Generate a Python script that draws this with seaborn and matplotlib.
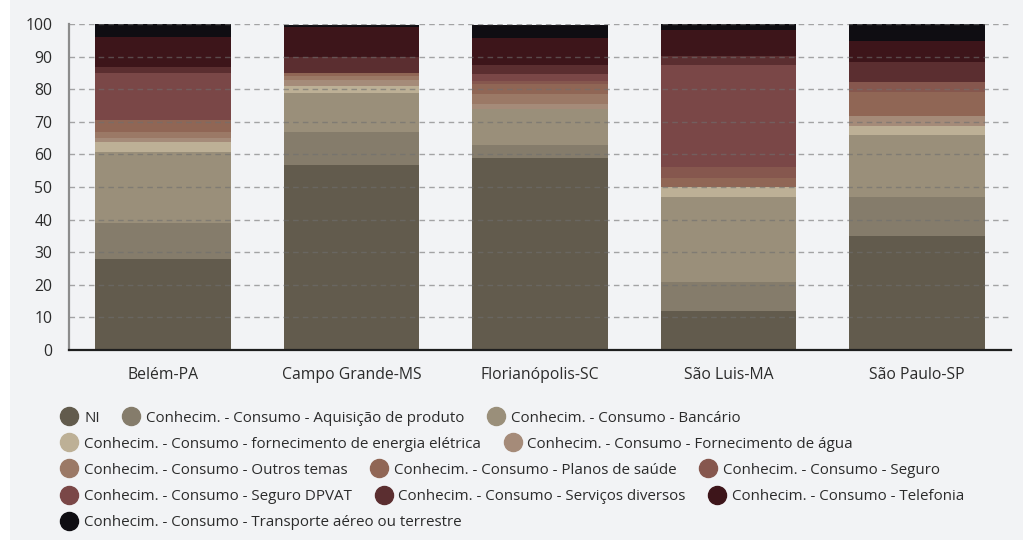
import numpy as np
import pandas as pd
import matplotlib
matplotlib.use("Agg")
import matplotlib.pyplot as plt
from matplotlib.lines import Line2D
from matplotlib.patches import Rectangle
import seaborn as sns

# Cities (x axis)
cities = ["Belém-PA", "Campo Grande-MS", "Florianópolis-SC", "São Luis-MA", "São Paulo-SP"]

# Categories, stacked from bottom to top
categories = [
    "NI",
    "Conhecim. - Consumo - Aquisição de produto",
    "Conhecim. - Consumo - Bancário",
    "Conhecim. - Consumo - fornecimento de energia elétrica",
    "Conhecim. - Consumo - Fornecimento de água",
    "Conhecim. - Consumo - Outros temas",
    "Conhecim. - Consumo - Planos de saúde",
    "Conhecim. - Consumo - Seguro",
    "Conhecim. - Consumo - Seguro DPVAT",
    "Conhecim. - Consumo - Serviços diversos",
    "Conhecim. - Consumo - Telefonia",
    "Conhecim. - Consumo - Transporte aéreo ou terrestre",
]

# Percentages per category, one value per city
ni = [28.0, 56.7, 58.9, 12.0, 35.0]
aquisicao = [11.1, 10.1, 4.0, 8.9, 12.0]
bancario = [21.6, 12.1, 10.9, 26.1, 19.0]
energia = [3.1, 2.0, 0.0, 2.9, 2.8]
agua = [1.2, 1.8, 1.7, 0.0, 3.1]
outros = [1.8, 1.2, 2.9, 0.0, 0.0]
planos = [3.9, 1.0, 3.1, 3.0, 7.2]
seguro = [0.0, 0.0, 1.0, 3.1, 3.0]
dpvat = [14.3, 0.0, 2.2, 31.3, 0.0]
servicos = [1.8, 4.9, 2.7, 2.9, 6.1]
telefonia = [9.2, 9.2, 8.4, 7.9, 6.7]
transporte = [3.9, 0.8, 3.9, 2.1, 5.2]

series = [ni, aquisicao, bancario, energia, agua, outros, planos,
          seguro, dpvat, servicos, telefonia, transporte]

colors = ["#625b4d", "#857c6b", "#9a8f7a", "#bdb096", "#a58b79", "#9b7966",
          "#906655", "#86574e", "#7a4747", "#5b2e30", "#3d151a", "#0f0d12"]

y_ticks = [0, 10, 20, 30, 40, 50, 60, 70, 80, 90, 100]

sns.set_theme(style="white")
plt.rcParams["font.family"] = ["Open Sans", "DejaVu Sans"]

panel = "#f2f3f5"
fig = plt.figure(figsize=(10.23, 5.42), dpi=100, facecolor="white")
fig.patches.append(Rectangle((10 / 1023, 2 / 542), 1 - 10 / 1023, 1 - 2 / 542,
                             transform=fig.transFigure, facecolor=panel,
                             edgecolor="none", zorder=-10))

ax = fig.add_axes([69 / 1023, (542 - 350) / 542, (1011 - 69) / 1023, (350 - 24) / 542])
ax.patch.set_alpha(0)

df_base = pd.DataFrame({"city": cities})
bottom = np.zeros(len(cities))
for cat, vals, col in zip(categories, series, colors):
    d = df_base.assign(value=vals)
    sns.barplot(data=d, x="city", y="value", order=cities, color=col,
                width=0.72, bottom=bottom, linewidth=0, saturation=1,
                ax=ax, zorder=2)
    bottom = bottom + np.asarray(vals)

ax.set_xlim(-0.5, len(cities) - 0.5)
ax.set_ylim(0, 100)
ax.set_yticks(y_ticks)
ax.set_xlabel("")
ax.set_ylabel("")

ax.set_axisbelow(False)
ax.yaxis.grid(True, linestyle=(0, (4, 3)), color="#6f6f6f", alpha=0.6, linewidth=1.0, zorder=3)
ax.xaxis.grid(False)

for s in ["top", "right"]:
    ax.spines[s].set_visible(False)
ax.spines["left"].set_color("#8c8c8c")
ax.spines["left"].set_linewidth(1.6)
ax.spines["bottom"].set_color("#1e1e1e")
ax.spines["bottom"].set_linewidth(1.6)
ax.spines["left"].set_zorder(4)
ax.spines["bottom"].set_zorder(4)

ax.tick_params(axis="both", length=0, labelsize=11.3, colors="#2b2b2b")
ax.tick_params(axis="y", pad=12)
ax.tick_params(axis="x", pad=12)

# Legend laid out in rows, like a flowing HTML legend
rows = [[0, 1, 2], [3, 4], [5, 6, 7], [8, 9, 10], [11]]
row_y = [418, 444, 470, 497, 523]
for idxs, yy in zip(rows, row_y):
    handles = [Line2D([0], [0], marker="o", linestyle="none", markersize=13,
                      markerfacecolor=colors[i], markeredgecolor=colors[i])
               for i in idxs]
    labels = [categories[i] for i in idxs]
    fig.legend(handles, labels, loc="center left",
               bbox_to_anchor=(60 / 1023, 1 - yy / 542), ncol=len(idxs),
               frameon=False, fontsize=10.9, handlelength=1.25, handletextpad=0.35,
               columnspacing=1.45, borderpad=0, borderaxespad=0,
               labelcolor="#2b2b2b")

fig.savefig("out.png", dpi=100, facecolor="white")
